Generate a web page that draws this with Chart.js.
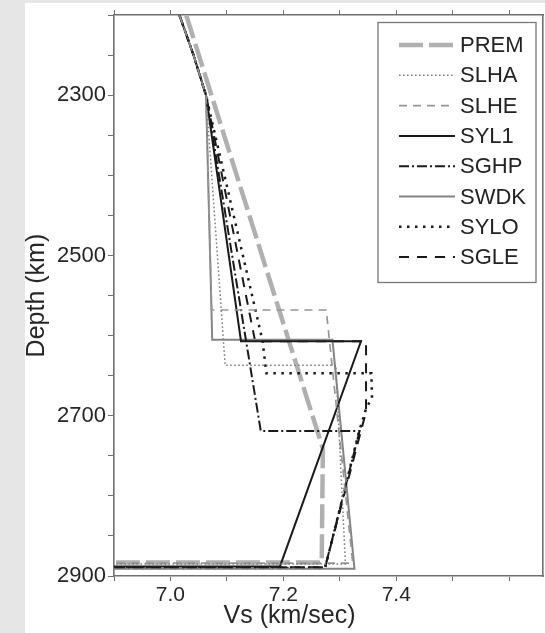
<!DOCTYPE html>
<html>
<head>
<meta charset="utf-8">
<title>Lowermost mantle Vs profiles</title>
<script src="https://cdn.jsdelivr.net/npm/chart.js@4.4.1/dist/chart.umd.min.js"></script>
<style>
  html, body { margin: 0; padding: 0; background: #e6e6e6; }
  canvas { display: block; }
</style>
</head>
<body>
<canvas id="vsChart" width="545" height="633"></canvas>
<script>
// Shear-wave velocity (km/s) against depth (km) near the core-mantle boundary.

// Reference model
const premVs    = [7.028, 7.270, 7.268, 6.900];
const premDepth = [2200, 2741, 2883, 2883];

// Regional models (all share the same upper part down to 2300 km)
const slhaVs    = [7.016, 7.041, 7.063, 7.097, 7.293, 7.310, 6.900];
const slhaDepth = [2200, 2250, 2300, 2637, 2637, 2885, 2885];

const slheVs    = [7.016, 7.041, 7.063, 7.073, 7.276, 7.323, 6.900];
const slheDepth = [2200, 2250, 2300, 2568, 2568, 2884, 2884];

const syl1Vs    = [7.016, 7.041, 7.063, 7.125, 7.3375, 7.194, 6.900];
const syl1Depth = [2200, 2250, 2300, 2607, 2607, 2888, 2888];

const sghpVs    = [7.016, 7.041, 7.063, 7.160, 7.335, 7.274, 6.900];
const sghpDepth = [2200, 2250, 2300, 2719, 2719, 2889, 2889];

const swdkVs    = [7.016, 7.041, 7.063, 7.074, 7.287, 7.326, 6.900];
const swdkDepth = [2200, 2250, 2300, 2605, 2605, 2891, 2891];

const syloVs    = [7.016, 7.041, 7.063, 7.163, 7.170, 7.356, 7.357, 7.347, 7.334, 7.274, 6.900];
const syloDepth = [2200, 2250, 2300, 2606, 2647, 2647, 2678, 2690, 2720, 2890, 2890];

const sgleVs    = [7.016, 7.041, 7.063, 7.150, 7.3465, 7.3465, 7.274, 6.900];
const sgleDepth = [2200, 2250, 2300, 2607, 2607, 2695, 2889, 2889];

// Axis ticks
const xTickValues = [6.9, 7.0, 7.1, 7.2, 7.3, 7.4, 7.5, 7.6];
const xTickLabels = ['7.0', '7.2', '7.4'];
const depthTickLabels = ['2300', '2500', '2700', '2900'];

const FONT = "'Liberation Sans', Arial, Helvetica, sans-serif";
Chart.defaults.font.family = FONT;
Chart.defaults.color = '#262626';

function toPoints(vs, depth) {
  return vs.map((v, i) => ({ x: v, y: depth[i] }));
}

function profile(label, vs, depth, style) {
  return Object.assign({
    label: label,
    data: toPoints(vs, depth),
    showLine: true,
    fill: false,
    tension: 0,
    pointRadius: 0,
    pointHoverRadius: 0,
    borderCapStyle: 'butt',
    borderJoinStyle: 'miter',
    order: 0
  }, style);
}

const datasets = [
  profile('PREM', premVs, premDepth, { borderColor: '#b0b0b0', borderWidth: 4.5, borderDash: [24, 6], order: 1 }),
  profile('SLHA', slhaVs, slhaDepth, { borderColor: '#808080', borderWidth: 1.5, borderDash: [1.6, 2.4] }),
  profile('SLHE', slheVs, slheDepth, { borderColor: '#969696', borderWidth: 1.7, borderDash: [8, 6] }),
  profile('SYL1', syl1Vs, syl1Depth, { borderColor: '#1a1a1a', borderWidth: 2, borderDash: [] }),
  profile('SGHP', sghpVs, sghpDepth, { borderColor: '#1a1a1a', borderWidth: 2, borderDash: [10, 3, 2, 3] }),
  profile('SWDK', swdkVs, swdkDepth, { borderColor: '#848484', borderWidth: 2, borderDash: [] }),
  profile('SYLO', syloVs, syloDepth, { borderColor: '#1a1a1a', borderWidth: 2.5, borderDash: [2.5, 5.5] }),
  profile('SGLE', sgleVs, sgleDepth, { borderColor: '#1a1a1a', borderWidth: 2, borderDash: [10, 8] })
];

// Grey margin with white figure panel
const panelBackground = {
  id: 'panelBackground',
  beforeDraw(chart) {
    const ctx = chart.ctx;
    ctx.save();
    ctx.fillStyle = '#e6e6e6';
    ctx.fillRect(0, 0, chart.width, chart.height);
    ctx.fillStyle = '#ffffff';
    ctx.fillRect(25, 3, chart.width - 25, chart.height - 3);
    ctx.restore();
  }
};

// Framed legend with line samples inside the plot
const boxedLegend = {
  id: 'boxedLegend',
  afterDatasetsDraw(chart) {
    const ctx = chart.ctx;
    const left = 378, top = 22.5, width = 158, height = 260;
    ctx.save();
    ctx.fillStyle = '#ffffff';
    ctx.fillRect(left, top, width, height);
    ctx.strokeStyle = '#777777';
    ctx.lineWidth = 1.3;
    ctx.strokeRect(left, top, width, height);
    ctx.font = '22px ' + FONT;
    ctx.textBaseline = 'middle';
    ctx.textAlign = 'left';
    chart.data.datasets.forEach((ds, i) => {
      const y = 45 + i * 30.3;
      ctx.save();
      ctx.strokeStyle = ds.borderColor;
      ctx.lineWidth = ds.borderWidth;
      ctx.setLineDash(ds.borderDash || []);
      ctx.lineCap = 'butt';
      ctx.beginPath();
      ctx.moveTo(399, y);
      ctx.lineTo(455, y);
      ctx.stroke();
      ctx.restore();
      ctx.fillStyle = '#222222';
      ctx.fillText(ds.label, 460, y + 1);
    });
    ctx.restore();
  }
};

// Horizontal axis title
const xAxisTitle = {
  id: 'xAxisTitle',
  afterDraw(chart) {
    const ctx = chart.ctx;
    ctx.save();
    ctx.font = '25px ' + FONT;
    ctx.fillStyle = '#262626';
    ctx.textAlign = 'center';
    ctx.textBaseline = 'middle';
    ctx.fillText('Vs (km/sec)', chart.chartArea.left + 175.5, 616);
    ctx.restore();
  }
};

const AXIS_COLOR = '#707070';

function setXTicks(scale) {
  scale.ticks = xTickValues.map(v => ({ value: v }));
}

new Chart(document.getElementById('vsChart'), {
  type: 'scatter',
  data: { datasets: datasets },
  plugins: [panelBackground, boxedLegend, xAxisTitle],
  options: {
    responsive: false,
    devicePixelRatio: 1,
    animation: false,
    events: [],
    layout: { padding: { top: 5, left: 22, right: 2, bottom: 0 } },
    plugins: {
      legend: { display: false },
      tooltip: { enabled: false },
      title: { display: false }
    },
    scales: {
      x: {
        type: 'linear',
        position: 'bottom',
        min: 6.9,
        max: 7.66,
        afterBuildTicks: setXTicks,
        afterFit(scale) { scale.height = 57; },
        ticks: {
          autoSkip: false,
          maxRotation: 0,
          padding: 2,
          font: { size: 21 },
          color: '#262626',
          callback: (v) => {
            const s = Number(v).toFixed(1);
            return xTickLabels.includes(s) ? s : '';
          }
        },
        grid: { drawOnChartArea: false, drawTicks: true, tickLength: 5, color: AXIS_COLOR, lineWidth: 1 },
        border: { display: true, color: AXIS_COLOR, width: 1.6 }
      },
      xTop: {
        type: 'linear',
        position: 'top',
        min: 6.9,
        max: 7.66,
        afterBuildTicks: setXTicks,
        afterFit(scale) { scale.height = 5; },
        ticks: { display: false, autoSkip: false },
        grid: { drawOnChartArea: false, drawTicks: true, tickLength: 5, color: AXIS_COLOR, lineWidth: 1 },
        border: { display: true, color: AXIS_COLOR, width: 1.6 }
      },
      y: {
        type: 'linear',
        position: 'left',
        reverse: true,
        min: 2200,
        max: 2900,
        afterFit(scale) { scale.width = 92; },
        ticks: {
          stepSize: 50,
          autoSkip: false,
          padding: 2,
          font: { size: 22 },
          color: '#262626',
          callback: (v) => depthTickLabels.includes(String(v)) ? String(v) : ''
        },
        title: {
          display: true,
          text: 'Depth (km)',
          font: { size: 25 },
          color: '#262626',
          padding: { top: 0, bottom: 0 }
        },
        grid: { drawOnChartArea: false, drawTicks: true, tickLength: 6, color: AXIS_COLOR, lineWidth: 1 },
        border: { display: true, color: AXIS_COLOR, width: 1.6 }
      },
      yRight: {
        type: 'linear',
        position: 'right',
        reverse: true,
        min: 2200,
        max: 2900,
        ticks: { display: false },
        grid: { display: false, drawTicks: false, drawOnChartArea: false },
        border: { display: true, color: AXIS_COLOR, width: 1.6 }
      }
    }
  }
});
</script>
</body>
</html>
